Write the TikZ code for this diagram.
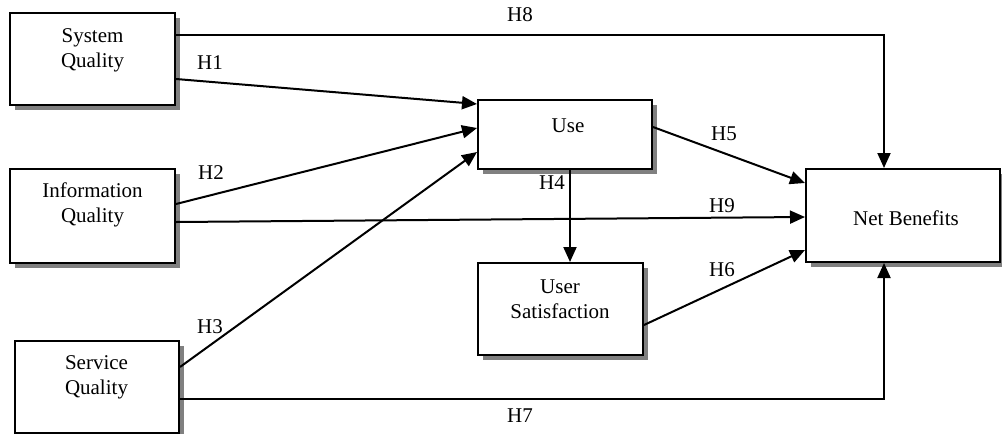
\documentclass[tikz,border=0pt]{standalone}
\usepackage{fontspec}
\setmainfont{Liberation Serif}
\usetikzlibrary{arrows.meta,shadows}
\begin{document}
\begin{tikzpicture}[x=0.5pt,y=-0.5pt,
  box/.style={draw=black,line width=1pt,fill=white,rectangle,inner sep=0pt,
    drop shadow={shadow xshift=2.5pt,shadow yshift=-2.5pt,fill=black!50,opacity=1}},
  txt/.style={font=\fontsize{10.5pt}{12.5pt}\selectfont,align=center,inner sep=0pt},
  lbl/.style={font=\fontsize{10.5pt}{12.5pt}\selectfont,inner sep=0pt},
  conn/.style={line width=1pt,-{Triangle[length=7.5pt,width=6.5pt]}}]
\useasboundingbox (0,0) rectangle (1002,434);
% boxes
\node[box,minimum width=82.5pt,minimum height=46pt] (sq) at (92.5,59) {};
\node[box,minimum width=82.5pt,minimum height=47pt] (iq) at (92.5,216) {};
\node[box,minimum width=82pt,minimum height=46pt] (svq) at (97,387) {};
\node[box,minimum width=87pt,minimum height=34.5pt] (use) at (565,134.5) {};
\node[box,minimum width=82.5pt,minimum height=46pt] (us) at (560.5,309) {};
\node[box,minimum width=97pt,minimum height=46.5pt] (nb) at (903,215.5) {};
% texts
\node[txt] (sqt) at (92.5,50) {System\\Quality};
\node[txt] (iqt) at (92.5,205) {Information\\Quality};
\node[txt] (svqt) at (96.5,377) {Service\\Quality};
\node[txt] (uset) at (568,126) {Use};
\node[txt] (ust) at (560,299.5) {User\\Satisfaction};
\node[txt] (nbt) at (906,218) {Net Benefits};
% connectors
\draw[conn] ([yshift=-10pt]sq.east) -- ([yshift=15.25pt]use.west);
\draw[conn] ([yshift=6pt]iq.east) -- ([yshift=3.25pt]use.west);
\draw[conn] ([yshift=10pt]svq.east) -- ([yshift=-8.75pt]use.west);
\draw[conn] ([yshift=-3pt]iq.east) -- ([yshift=-0.75pt]nb.west);
\draw[conn] ([yshift=3.75pt]use.east) -- ([yshift=16.25pt]nb.west);
\draw[conn] ([yshift=-8pt]us.east) -- ([yshift=-17.25pt]nb.west);
\draw[conn] ([xshift=2.5pt]use.south) -- ([xshift=4.75pt]us.north);
\draw[conn] ([yshift=12pt]sq.east) -| ([xshift=-9.5pt]nb.north);
\draw[conn] ([yshift=-6pt]svq.east) -| ([xshift=-9.5pt]nb.south);
% labels
\node[lbl] (h8) at (520,15) {H8};
\node[lbl] (h1) at (210,63) {H1};
\node[lbl] (h2) at (211,173) {H2};
\node[lbl] (h3) at (210,327) {H3};
\node[lbl] (h9) at (722,206) {H9};
\node[lbl] (h5) at (724,134) {H5};
\node[lbl] (h6) at (722,270) {H6};
\node[lbl] (h4) at (552,183) {H4};
\node[lbl] (h7) at (520,416) {H7};
\end{tikzpicture}
\end{document}
